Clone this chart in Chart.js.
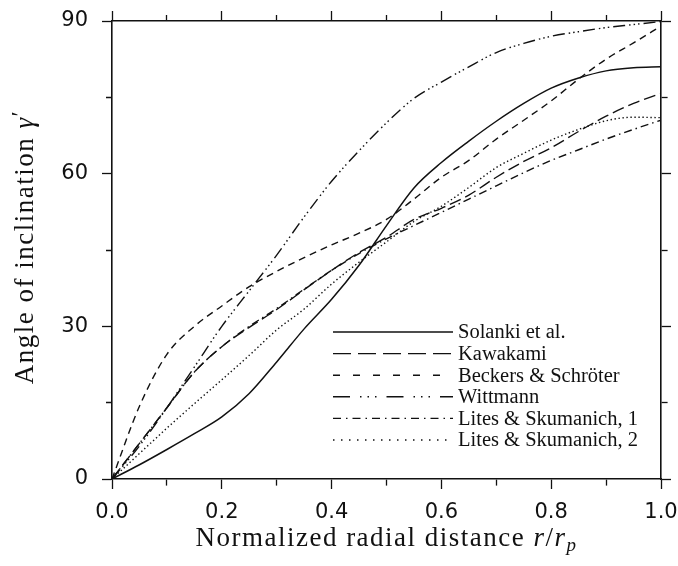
<!DOCTYPE html>
<html>
<head>
<meta charset="utf-8">
<script src="https://cdn.jsdelivr.net/npm/chart.js@4.4.1/dist/chart.umd.min.js"></script>
<style>
  html, body { margin: 0; padding: 0; background: #fff; }
</style>
</head>
<body>
<canvas id="myChart" width="678" height="566"></canvas>
<script>
// normalized radial distance r/rp
const radius = [0, 0.05, 0.1, 0.15, 0.2, 0.25, 0.3, 0.35, 0.4, 0.45, 0.5,
                0.55, 0.6, 0.65, 0.7, 0.75, 0.8, 0.85, 0.9, 0.95, 1.0];

// angle of inclination (deg) for each model
const solanki  = [0, 2.8, 5.8, 8.9, 12.2, 16.8, 23.0, 29.5, 35.3, 42.0, 49.8,
                  57.2, 62.2, 66.4, 70.3, 73.8, 76.8, 78.8, 80.2, 80.8, 81.0];
const kawakami = [0, 7.0, 14.0, 21.0, 26.0, 29.8, 33.3, 37.2, 41.0, 44.5, 47.5,
                  51.0, 53.2, 55.8, 59.3, 62.4, 65.1, 68.3, 71.3, 73.8, 75.8];
const beckers  = [0, 14.3, 24.5, 30.0, 34.0, 37.8, 40.8, 43.5, 46.0, 48.3, 51.0,
                  55.0, 59.3, 62.6, 66.8, 70.5, 74.3, 78.6, 82.5, 85.7, 89.0];
const wittmann = [0, 6.5, 14.0, 22.0, 30.0, 37.0, 44.0, 51.5, 58.5, 64.5, 70.0,
                  74.8, 78.0, 81.0, 83.8, 85.6, 87.0, 87.9, 88.7, 89.3, 89.9];
const lites1   = [0, 7.0, 14.0, 21.0, 26.0, 30.0, 33.5, 37.3, 41.0, 44.3, 47.2,
                  49.8, 52.4, 55.0, 57.6, 60.2, 62.6, 64.7, 66.8, 68.7, 70.5];
const lites2   = [0, 5.0, 10.0, 14.8, 19.5, 24.3, 29.3, 33.4, 38.3, 42.6, 46.6,
                  50.6, 53.6, 57.3, 61.2, 64.0, 66.6, 68.7, 70.4, 71.1, 71.0];

const seriesNames = ['Solanki et al.', 'Kawakami', 'Beckers & Schröter', 'Wittmann',
                     'Lites & Skumanich, 1', 'Lites & Skumanich, 2'];

const ink = '#111';

function points(ys) {
    return radius.map((r, i) => ({ x: r, y: ys[i] }));
}

// dash patterns: on the curve, and in the legend sample
function makeSet(i, ys, dash, legendDash, width) {
    return {
        label: seriesNames[i],
        data: points(ys),
        borderColor: ink,
        borderWidth: width,
        borderDash: dash,
        legendDash: legendDash,
        pointRadius: 0,
        fill: false,
        cubicInterpolationMode: 'monotone'
    };
}

const datasets = [
    makeSet(0, solanki,  [], [], 1.5),
    makeSet(1, kawakami, [12, 5], [18, 7], 1.4),
    makeSet(2, beckers,  [7, 5], [7, 13], 1.4),
    makeSet(3, wittmann, [12, 4, 1.5, 3, 1.5, 3, 1.5, 4], [17, 10, 1.5, 6, 1.5, 6, 1.5, 10], 1.4),
    makeSet(4, lites1,   [8, 4, 1.5, 4], [8, 5, 1.5, 5], 1.4),
    makeSet(5, lites2,   [1.4, 2.6], [1.5, 6.5], 1.4)
];

// plot frame
const frame = { left: 112, right: 661, top: 21, bottom: 479 };
const W = 678, H = 566;

const tickFont = { family: 'DejaVu Sans', size: 21 };
const serif = 'Liberation Serif';

function isMinorX(v) { return Math.round(v * 10) % 2 !== 0; }
function isMinorY(v) { return Math.round(v) % 30 !== 0; }

function gridFor(minorFn, outerFirst) {
    return {
        drawOnChartArea: false,
        drawTicks: true,
        tickLength: 10,
        tickWidth: 1.3,
        tickColor: ink,
        tickBorderDash: (c) => {
            if (!c.tick || !minorFn(c.tick.value)) return [];
            return outerFirst ? [0, 4, 6, 100] : [6, 100];
        }
    };
}
const border = { display: true, color: ink, width: 1.6 };

// draw a line of text made of runs with their own style
function drawRuns(ctx, runs, cx, baseY, size, spacing) {
    const fontOf = (r) => (r.italic ? 'italic ' : '') + Math.round(size * (r.scale || 1)) + 'px "' + serif + '"';
    ctx.letterSpacing = spacing + 'px';
    let total = 0;
    runs.forEach(r => { ctx.font = fontOf(r); total += ctx.measureText(r.text).width + (r.kern || 0); });
    let x = cx - total / 2;
    ctx.textAlign = 'left';
    ctx.textBaseline = 'alphabetic';
    runs.forEach(r => {
        ctx.font = fontOf(r);
        ctx.fillText(r.text, x, baseY + (r.dy || 0));
        x += ctx.measureText(r.text).width + (r.kern || 0);
    });
    ctx.letterSpacing = '0px';
}

const titlesPlugin = {
    id: 'axisTitles',
    afterDraw(chart) {
        const ctx = chart.ctx;
        const a = chart.chartArea;
        ctx.save();
        ctx.fillStyle = ink;
        drawRuns(ctx, [
            { text: 'Normalized radial distance ' },
            { text: 'r', italic: true },
            { text: '/' },
            { text: 'r', italic: true },
            { text: 'p', italic: true, scale: 0.72, dy: 5 }
        ], (a.left + a.right) / 2, 546, 27, 1.5);

        ctx.translate(33, (a.top + a.bottom) / 2 - 3);
        ctx.rotate(-Math.PI / 2);
        drawRuns(ctx, [
            { text: 'Angle of inclination ' },
            { text: 'γ', italic: true },
            { text: '′', scale: 0.9, dy: -6 }
        ], 0, 0, 27, 1.5);
        ctx.restore();
    }
};

const legendPlugin = {
    id: 'lineLegend',
    afterDraw(chart) {
        const ctx = chart.ctx;
        const x0 = 333, x1 = 453, textX = 458, y0 = 332, step = 21.6;
        ctx.save();
        chart.data.datasets.forEach((ds, i) => {
            const y = y0 + i * step;
            ctx.strokeStyle = ink;
            ctx.lineWidth = ds.borderWidth;
            ctx.setLineDash(ds.legendDash);
            ctx.beginPath();
            ctx.moveTo(x0, y);
            ctx.lineTo(x1, y);
            ctx.stroke();
            ctx.setLineDash([]);
            ctx.fillStyle = ink;
            ctx.font = '20.5px "' + serif + '"';
            ctx.textAlign = 'left';
            ctx.textBaseline = 'middle';
            ctx.fillText(ds.label, textX, y + 1);
        });
        ctx.restore();
    }
};

const config = {
    type: 'line',
    data: { datasets: datasets },
    options: {
        responsive: false,
        animation: false,
        events: [],
        layout: { padding: 0 },
        plugins: { legend: { display: false }, tooltip: { enabled: false } },
        scales: {
            x: {
                type: 'linear', position: 'bottom', min: 0, max: 1,
                grid: gridFor(isMinorX, false), border: border,
                ticks: {
                    stepSize: 0.1, autoSkip: false, maxRotation: 0, padding: 11,
                    color: ink, font: tickFont,
                    callback: (v) => isMinorX(v) ? '' : v.toFixed(1)
                },
                afterFit: (s) => { s.height = H - frame.bottom; s.paddingLeft = 0; s.paddingRight = 0; }
            },
            x2: {
                type: 'linear', position: 'top', min: 0, max: 1,
                grid: gridFor(isMinorX, true), border: border,
                ticks: { stepSize: 0.1, autoSkip: false, maxRotation: 0, font: tickFont, callback: () => '' },
                afterFit: (s) => { s.height = frame.top; s.paddingLeft = 0; s.paddingRight = 0; }
            },
            y: {
                type: 'linear', position: 'left', min: 0, max: 90,
                grid: gridFor(isMinorY, true), border: border,
                ticks: {
                    stepSize: 15, autoSkip: false, padding: 14,
                    color: ink, font: tickFont,
                    callback: (v) => isMinorY(v) ? '' : String(v)
                },
                afterFit: (s) => { s.width = frame.left; s.paddingTop = 0; s.paddingBottom = 0; }
            },
            y2: {
                type: 'linear', position: 'right', min: 0, max: 90,
                grid: gridFor(isMinorY, false), border: border,
                ticks: { stepSize: 15, autoSkip: false, font: tickFont, callback: () => '' },
                afterFit: (s) => { s.width = W - frame.right; s.paddingTop = 0; s.paddingBottom = 0; }
            }
        }
    },
    plugins: [titlesPlugin, legendPlugin]
};

const myChart = new Chart(document.getElementById('myChart'), config);
</script>
</body>
</html>
